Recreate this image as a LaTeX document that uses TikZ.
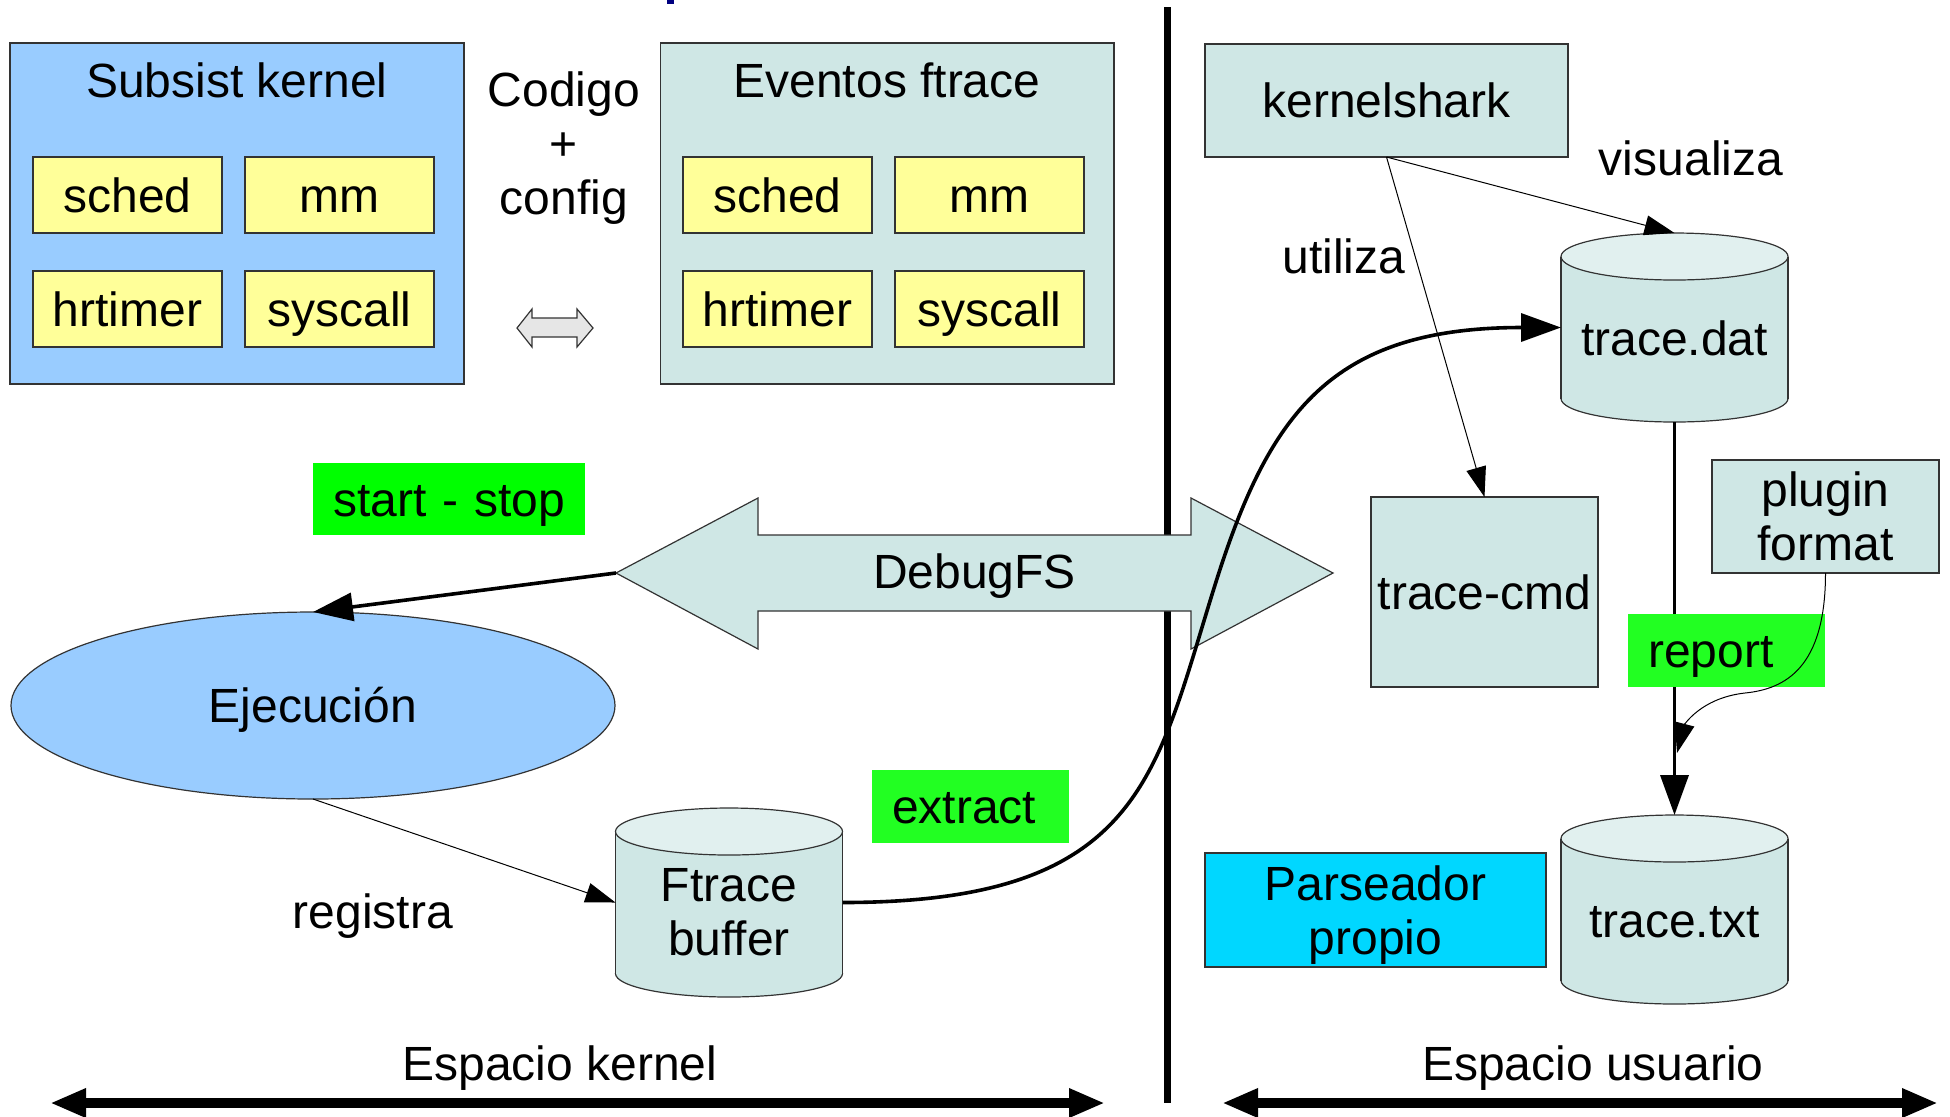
\documentclass[tikz,border=0pt]{standalone}
\usepackage{fontspec}
\setmainfont{Liberation Sans}
\usetikzlibrary{shapes.geometric,arrows.meta,calc}

\definecolor{kblue}{HTML}{99CCFF}
\definecolor{kyellow}{HTML}{FFFF99}
\definecolor{kteal}{RGB}{207,231,229}
\definecolor{ktealtop}{RGB}{225,240,239}
\definecolor{kgreenA}{HTML}{00FF00}
\definecolor{kgreenB}{HTML}{22FF22}
\definecolor{kcyan}{HTML}{00D7FF}
\definecolor{kgray}{HTML}{E6E6E6}
\definecolor{kborder}{HTML}{333333}
\definecolor{knavy}{HTML}{000080}

% cylinder: name, center x, top y (px units)
\newcommand\mycyl[3]{%
  \node[cylnode] (#1) at (#2,{#3+94.5}) {};
  \filldraw[cylline,fill=kteal] (#2,{#3+189-23.5}) ellipse [x radius=56.75pt, y radius=11.75pt];
  \fill[kteal] ({#2-113.5},{#3+23.5}) rectangle ({#2+113.5},{#3+189-23.5});
  \draw[cylline] ({#2-113.5},{#3+23.5}) -- ({#2-113.5},{#3+189-23.5})
                 ({#2+113.5},{#3+23.5}) -- ({#2+113.5},{#3+189-23.5});
  \filldraw[cylline,fill=ktealtop] (#2,{#3+23.5}) ellipse [x radius=56.75pt, y radius=11.75pt];
}
\newcommand\nodepth[1]{\raisebox{0pt}[\height][0pt]{#1}}

\begin{document}
\begin{tikzpicture}[x=0.5pt,y=-0.5pt,
 every node/.style={font=\fontsize{24}{27}\selectfont,inner sep=0pt,outer sep=0pt},
 box/.style={rectangle,draw=kborder,line width=0.7pt},
 t1/.style={text height=17pt,text depth=0pt},
 ybox/.style={box,t1,fill=kyellow,minimum width=94.5pt,minimum height=38pt},
 gbox/.style={rectangle,t1,inner xsep=10pt,align=left},
 cylnode/.style={rectangle,minimum width=113.5pt,minimum height=94.5pt},
 cylline/.style={draw=kborder,line width=0.6pt},
 thinarr/.style={line width=0.5pt,-{Triangle[length=15pt,width=10pt]}},
 thickarr/.style={line width=1.8pt,-{Triangle[length=20pt,width=14pt]}},
 bigarr/.style={line width=5pt,{Triangle[length=18pt,width=13.5pt]}-{Triangle[length=18pt,width=13.5pt]}},
]
\useasboundingbox (0,0) rectangle (1950,1116);

\fill[knavy] (667,0) rectangle (674,4);

% left top group
\node[box,fill=kblue,minimum width=227pt,minimum height=170.5pt] (subsist) at (237,213.5) {};
\node[t1] (subsistt) at (237,80) {Subsist kernel};
\node[ybox] (s1) at (127.5,195) {sched};
\node[ybox] (s2) at (339.5,195) {mm};
\node[ybox] (s3) at (127.5,309) {hrtimer};
\node[ybox] (s4) at (339.5,309) {syscall};

\node[box,fill=kteal,minimum width=226.75pt,minimum height=170.5pt] (eventos) at (887.25,213.5) {};
\node[t1] (eventost) at (887,80) {Eventos ftrace};
\node[ybox] (e1) at (777.5,195) {sched};
\node[ybox] (e2) at (989.5,195) {mm};
\node[ybox] (e3) at (777.5,309) {hrtimer};
\node[ybox] (e4) at (989.5,309) {syscall};

\node[align=center] (codigo) at (564,143.5) {Codigo\\+\\\nodepth{config}};
\filldraw[fill=kgray,draw=kborder,line width=0.6pt] (517,328) -- (532,309) -- (532,318) -- (577,318) -- (577,309) -- (593,328) -- (577,347) -- (577,337) -- (532,337) -- (532,347) -- cycle;

% divider
\draw[line width=3.5pt] (1167,7) -- (1167,1103);

% DebugFS
\node[gbox,fill=kgreenA,minimum width=136pt,minimum height=36pt,text width=116pt] (ss) at (449,499) {\mbox{start - stop}};
\filldraw[fill=kteal,draw=kborder,line width=0.6pt] (616,573) -- (758,498) -- (758,535) -- (1191,535) -- (1191,498) -- (1333,573) -- (1191,649) -- (1191,611) -- (758,611) -- (758,649) -- cycle;
\coordinate (dbl) at (616,573);
\node[t1] (dbfs) at (974.5,571) {DebugFS};

\node[ellipse,draw=kborder,line width=0.6pt,fill=kblue,minimum width=302pt,minimum height=93.5pt,t1] (ejec) at (313,705.5) {Ejecución};
\draw[thickarr] (dbl) -- (ejec.north);

% Ftrace buffer
\mycyl{ftb}{729}{808}
\node[align=center] (ftbt) at (729,912.5) {Ftrace\\buffer};
\draw[thinarr] (ejec.south) -- (ftb.west);
\node[t1] (registra) at (373,911) {registra};
\node[gbox,fill=kgreenB,minimum width=98.5pt,minimum height=36.5pt,text width=78.5pt] (extract) at (970.5,806.5) {extract};

% user space
\node[box,t1,fill=kteal,minimum width=181.5pt,minimum height=56.5pt] (ks) at (1386.5,100.5) {kernelshark};
\node[box,t1,fill=kteal,minimum width=113.5pt,minimum height=95pt] (tcmd) at (1484.5,592) {trace-cmd};
\mycyl{tdat}{1674.5}{233}
\node[t1] (tdatt) at (1674.5,338) {trace.dat};
\draw[thinarr] (ks.south) -- (tdat.north);
\draw[thinarr] (ks.south) -- (tcmd.north);
\node[t1] (vis) at (1691,158) {visualiza};
\node[t1] (uti) at (1344,256) {utiliza};

\coordinate (xm) at (1215,585);
\draw[thickarr] (ftb.east) .. controls +(300,0) and +(-60,191) .. (xm) .. controls +(54,-172) and +(-230,0) .. (tdat.west);

\mycyl{ttxt}{1674.5}{815}
\draw[thickarr] (tdat.south) -- (ttxt.north);
\node[t1] (ttxtt) at (1674.5,920) {trace.txt};
\node[gbox,fill=kgreenB,minimum width=98.5pt,minimum height=36.5pt,text width=78.5pt] (report) at (1726.5,650.5) {report};
\node[box,align=center,fill=kteal,minimum width=113.5pt,minimum height=56.5pt] (plugin) at (1825.5,516.5) {plugin\\format};
\coordinate (pmid) at (1745,693);
\coordinate (pend) at (1677,753);
\draw[thinarr] (plugin.south) .. controls +(0,95) and +(40,-4) .. (pmid) .. controls +(-45,5) and +(7,-27) .. (pend);

\node[box,align=center,fill=kcyan,minimum width=170.5pt,minimum height=57pt] (parse) at (1375.5,910) {Parseador\\\nodepth{propio}};

% bottom
\coordinate (kl) at (50,1103);
\coordinate (kr) at (1105,1103);
\coordinate (ul) at (1222,1103);
\coordinate (ur) at (1938,1103);
\draw[bigarr] (kl) -- (kr);
\draw[bigarr] (ul) -- (ur);
\node[t1] (ek) at (560,1063) {Espacio kernel};
\node[t1] (eu) at (1593,1063) {Espacio usuario};
\end{tikzpicture}
\end{document}
